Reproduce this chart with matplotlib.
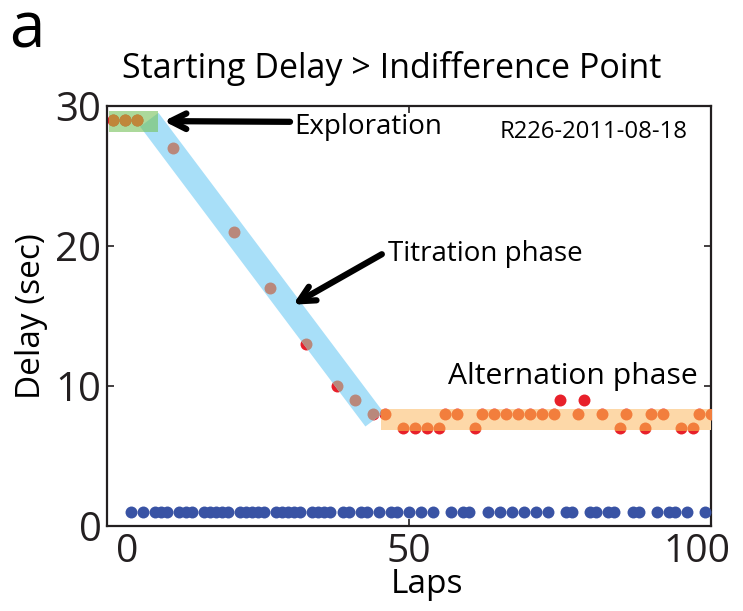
import matplotlib
matplotlib.use('Agg')
import matplotlib.pyplot as plt
import matplotlib.transforms as mtransforms
import numpy as np

plt.rcParams['font.family'] = ['Open Sans', 'DejaVu Sans']

# laps where the rat took the delayed side, and the delay at that lap
delayed_laps = [1, 3, 5, 11, 21, 27, 33, 38, 41, 44, 46, 49, 51, 53, 55, 56, 58,
                61, 62, 64, 66, 68, 70, 72, 74, 75, 78, 79, 82, 85, 86, 89, 90,
                92, 95, 97, 98, 100]
delayed_values = [29, 29, 29, 27, 21, 17, 13, 10, 9, 8, 8, 7, 7, 7, 7, 8, 8,
                  7, 8, 8, 8, 8, 8, 8, 8, 9, 8, 9, 8, 7, 8, 7, 8,
                  8, 7, 7, 8, 8]

# laps where the rat took the non-delayed side (1 sec)
non_delayed_laps = [4, 6, 8, 9, 10, 12, 13, 14, 16, 17, 18, 19, 20, 22, 23, 24,
                    25, 26, 28, 29, 30, 31, 32, 34, 35, 36, 37, 39, 40, 42, 43,
                    45, 47, 48, 50, 52, 54, 57, 59, 60, 63, 65, 67, 69, 71, 73,
                    76, 77, 80, 81, 83, 84, 87, 88, 91, 93, 94, 96, 99]
non_delayed_value = 1

MS = 8.6

fig = plt.figure(figsize=(7.43, 6.11), dpi=100)
ax = fig.add_axes([0.144, 0.139, 0.813, 0.688])
ax.set_xlim(0, 100)
ax.set_ylim(0, 30)

ax.plot(delayed_laps, delayed_values, 'o', color='#e8202a', ms=MS, mec='none', zorder=2)
ax.plot(non_delayed_laps, [non_delayed_value] * len(non_delayed_laps), 'o',
        color='#3953a4', ms=MS, mec='none', zorder=6)

# titration band: a thick strip, built in pixel space then mapped back to data
p0, p1 = ax.transData.transform([(7.0, 29.0), (44.3, 7.6)])
d = (p1 - p0) / np.hypot(*(p1 - p0))
n = np.array([d[1], -d[0]]) * 11.5
corners = ax.transData.inverted().transform([p0 + n, p1 + n, p1 - n, p0 - n])
titration = plt.Polygon(corners, closed=True, color='#a8dff8', lw=0, zorder=3)
exploration = plt.Rectangle((0.4, 28.1), 8.1, 1.5, color='#75c158', alpha=0.6, lw=0, zorder=3.2)
alternation = plt.Rectangle((45.3, 6.85), 54.7, 1.5, color='#fdd8a8', lw=0, zorder=3)
for patch, dot_color in [(titration, '#b9887b'), (alternation, '#f27e3d'),
                         (exploration, '#c0863a')]:
    ax.add_patch(patch)
    dots, = ax.plot(delayed_laps, delayed_values, 'o', color=dot_color, ms=MS,
                    mec='none', zorder=4)
    dots.set_clip_path(patch)

arrow = dict(arrowstyle='->', lw=4.5, color='black', mutation_scale=28,
             shrinkA=0, shrinkB=0)
ax.annotate('', xy=(9.4, 28.9), xytext=(30.3, 28.85), arrowprops=arrow)
ax.annotate('', xy=(30.8, 15.8), xytext=(45.5, 19.4), arrowprops=arrow)
ax.text(31, 28.5, 'Exploration', fontsize=20, va='center', ha='left')
ax.text(46.5, 19.4, 'Titration phase', fontsize=20, va='center', ha='left')
ax.text(56.5, 10.7, 'Alternation phase', fontsize=21.7, va='center', ha='left')
ax.text(65, 28.1, 'R226-2011-08-18', fontsize=17.2, va='center', ha='left')

ax.set_xticks([0, 50, 100])
ax.set_yticks([0, 10, 20, 30])
ax.tick_params(direction='in', length=5, width=1.2, labelsize=29, pad=4,
               top=True, right=True, colors='#231f20')
ax.tick_params(axis='x', labelsize=28, pad=5)
# end labels nudged inward, as in the original layout
xlbls = ax.get_xticklabels()
for lbl, dx in [(xlbls[0], 0.2), (xlbls[-1], -0.14)]:
    lbl.set_transform(lbl.get_transform() +
                      mtransforms.ScaledTranslation(dx, 0, fig.dpi_scale_trans))
for s in ax.spines.values():
    s.set_linewidth(1.6)
    s.set_color('#231f20')
ax.set_xlabel('Laps', fontsize=24, labelpad=-2, x=0.53)
ax.set_ylabel('Delay (sec)', fontsize=24, labelpad=5)
ax.set_title('Starting Delay > Indifference Point', fontsize=24.5, pad=20, x=0.472)
fig.text(0.012, 0.922, 'a', fontsize=46)

fig.savefig('out.png', dpi=100)
